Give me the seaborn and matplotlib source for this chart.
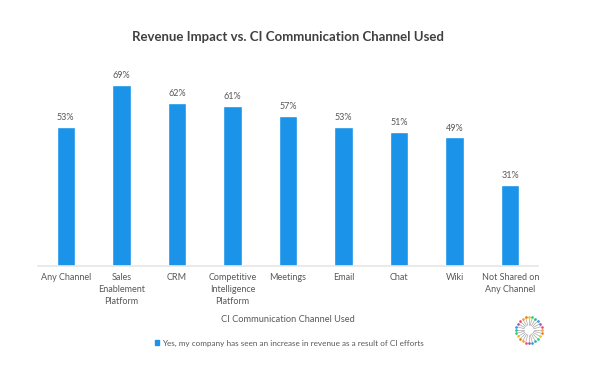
import numpy as np
import pandas as pd
import matplotlib
matplotlib.use("Agg")
import matplotlib.pyplot as plt
import seaborn as sns

# Chart data
channels = ["Any Channel", "Sales\nEnablement\nPlatform", "CRM", "Competitive\nIntelligence\nPlatform",
            "Meetings", "Email", "Chat", "Wiki", "Not Shared on\nAny Channel"]
revenue_pct = [53, 69, 62, 61, 57, 53, 51, 49, 31]
series_name = "Yes, my company has seen an increase in revenue as a result of CI efforts"

df = pd.DataFrame({"Channel": channels, "Pct": revenue_pct})

sns.set_theme(style="white")
plt.rcParams["font.family"] = ["Lato", "DejaVu Sans"]

bar_color = "#1a93e8"
text_color = "#595959"

fig = plt.figure(figsize=(6, 3.72), dpi=100)
ax = fig.add_axes([38 / 600, 0.285, 500 / 600, 0.565])

sns.barplot(data=df, x="Channel", y="Pct", color=bar_color, width=0.33, saturation=1, ax=ax)
ax.set_ylim(0, 80)
ax.set_xlim(-0.5, len(channels) - 0.5)

# value labels
for i, v in enumerate(revenue_pct):
    ax.text(i, v + 1.8, f"{v}%", ha="center", va="bottom", fontsize=6.5, color=text_color)

ax.set_yticks([])
ax.set_ylabel("")
ax.set_xlabel("CI Communication Channel Used", fontsize=6.7, color=text_color)
ax.xaxis.set_label_coords(0.5, -0.232)
ax.tick_params(axis="x", labelsize=6.5, labelcolor=text_color, length=0, pad=5)
for lbl in ax.get_xticklabels():
    lbl.set_linespacing(1.45)
for s in ["top", "right", "left"]:
    ax.spines[s].set_visible(False)
ax.spines["bottom"].set_color("#e6e6e6")
ax.spines["bottom"].set_linewidth(1.2)

fig.text(0.48, 1 - 37 / 372, "Revenue Impact vs. CI Communication Channel Used",
         ha="center", va="center", fontsize=9.5, fontweight="bold", color="#404040")

handle = plt.Rectangle((0, 0), 1, 1, color=bar_color)
fig.legend([handle], [series_name], loc="center", bbox_to_anchor=(0.482, 1 - 343 / 372),
           frameon=False, fontsize=5.9, handlelength=0.5, handleheight=0.5, handletextpad=0.3,
           labelcolor=text_color)

# small starburst logo in the corner
lax = fig.add_axes([(529 - 15) / 600, 1 - (330 + 15) / 372, 30 / 600, 30 / 372])
lax.set_xlim(-1.1, 1.1)
lax.set_ylim(-1.1, 1.1)
lax.set_aspect("equal")
lax.axis("off")
dot_colors = ["#f5a623", "#e94e77", "#9b59b6", "#3498db", "#1abc9c", "#2ecc71", "#f1c40f", "#e67e22"]
angles = np.linspace(0, 2 * np.pi, 24, endpoint=False)
for k, a in enumerate(angles):
    lax.plot([0.35 * np.cos(a), 0.9 * np.cos(a)], [0.35 * np.sin(a), 0.9 * np.sin(a)],
             color="#a8a8a8", lw=0.5)
    lax.plot(0.95 * np.cos(a), 0.95 * np.sin(a), "o", ms=0.9, color=dot_colors[k % len(dot_colors)])

fig.savefig("out.png", dpi=100, facecolor="white")
